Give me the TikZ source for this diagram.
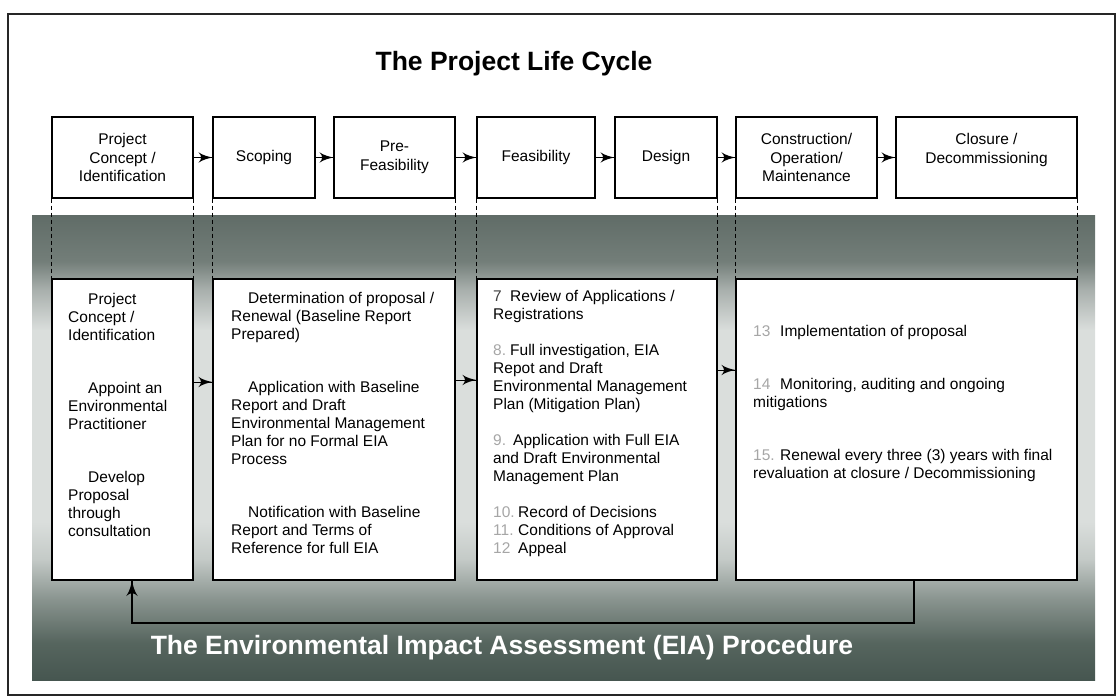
\documentclass[tikz,border=0pt]{standalone}
\usepackage{fontspec}
\setmainfont{Liberation Sans}
\usetikzlibrary{arrows}
\usetikzlibrary{decorations.markings}
\usetikzlibrary{positioning}

\definecolor{bandtop}{RGB}{96,108,103}
\definecolor{bandtopmid}{RGB}{115,126,121}
\definecolor{bandgrey}{RGB}{168,175,172}
\definecolor{bandlight}{RGB}{218,222,220}
\definecolor{bandpale}{RGB}{196,202,199}
\definecolor{bandmid}{RGB}{136,147,142}
\definecolor{banddeep}{RGB}{86,101,94}
\definecolor{bandbot}{RGB}{70,86,80}

\pgfdeclareverticalshading{eiaband}{100bp}{color(0bp)=(bandbot); color(25bp)=(bandbot);
  color(29bp)=(banddeep); color(33.6bp)=(bandmid); color(38bp)=(bandpale);
  color(42bp)=(bandlight); color(62.6bp)=(bandlight); color(67bp)=(bandgrey);
  color(70bp)=(bandtopmid); color(75bp)=(bandtop); color(100bp)=(bandtop)}

\tikzset{flow/.style = {decoration={markings,
                                    mark=at position 1 with {\arrow[scale=2.4]{latex'}}},
                        postaction={decorate}, line width=1pt}}
\tikzset{stage/.style = {draw, line width=1.2pt, fill=white, inner sep=0,
                         minimum height=81pt, minimum width=#1, align=center,
                         font=\fontsize{15.5}{18.5}\selectfont}}
\tikzset{phase/.style = {draw, line width=1.4pt, fill=white, inner sep=0,
                         minimum height=301pt, minimum width=#1}}
\tikzset{note/.style = {anchor=north west, inner sep=0, align=left,
                        font=\fontsize{15.5}{18}\selectfont}}
\tikzset{guide/.style = {dash pattern=on 4pt off 3pt, line width=1pt}}
\newcommand{\stepno}[3]{\makebox[#1][l]{\textcolor{#2}{#3}}}

\begin{document}
\begin{tikzpicture}[x=1pt, y=-1pt]
    \useasboundingbox (0, 0) rectangle (1117, 698);
    \draw [line width=1.8pt, black!85] (8, 14) rectangle (1115, 695);
    \shade [shading=eiaband] (32, 215) rectangle (1095, 680);

    \node (title) [font=\fontsize{26.5}{30}\selectfont\bfseries] at (514, 64) {The Project Life Cycle};

    % project life cycle
    \node (b1) [stage=141pt] at (122.5, 157.5) {Project\\Concept /\\Identification};
    \node (b2) [stage=102pt] at (264, 157.5) {Scoping};
    \node (b3) [stage=121pt] at (394.5, 157.5) {Pre-\\Feasibility};
    \node (b4) [stage=118pt] at (536, 157.5) {Feasibility};
    \node (b5) [stage=102pt] at (666, 157.5) {Design};
    \node (b6) [stage=141pt] at (806.5, 157.5) {Construction/\\Operation/\\Maintenance};
    \node (b7) [stage=181pt] at (986.5, 157.5) {Closure /\\Decommissioning\\\mbox{}};
    \foreach \a/\b in {b1/b2, b2/b3, b3/b4, b4/b5, b5/b6, b6/b7} {
      \draw [flow] (\a) -- (\b);
    }

    % EIA procedure
    \node (l1) [phase=141pt] at (122.5, 429.5) {};
    \node (l2) [phase=242pt] at (334, 429.5) {};
    \node (l3) [phase=240pt] at (597, 429.5) {};
    \node (l4) [phase=341pt] at (906.5, 429.5) {};
    \foreach \t/\s in {b1/west, b1/east, b2/west, b3/east, b4/west, b5/east, b6/west, b7/east} {
      \draw [guide] (\t.south \s) -- (\t.south \s |- l1.north);
    }

    \node (t1) [note] at (68, 292.7) {\hspace*{20pt}Project\\Concept /\\Identification\\[35pt]
      \hspace*{20pt}Appoint an\\Environmental\\Practitioner\\[35pt]
      \hspace*{20pt}Develop\\Proposal\\through\\consultation};
    \node (t2) [note] at (231, 291.7) {\hspace*{17pt}Determination of proposal /\\Renewal (Baseline Report\\Prepared)\\[35pt]
      \hspace*{17pt}Application with Baseline\\Report and Draft\\Environmental Management\\Plan for no Formal EIA\\Process\\[35pt]
      \hspace*{17pt}Notification with Baseline\\Report and Terms of\\Reference for full EIA};
    \node (t3) [note] at (493, 289.7) {\stepno{17pt}{black!75}{7}Review of Applications /\\Registrations\\[18pt]
      \stepno{17pt}{black!35}{8.}Full investigation, EIA\\Repot and Draft\\Environmental Management\\Plan (Mitigation Plan)\\[18pt]
      \stepno{20pt}{black!35}{9.}Application with Full EIA\\and Draft Environmental\\Management Plan\\[18pt]
      \stepno{25pt}{black!35}{10.}Record of Decisions\\
      \stepno{25pt}{black!35}{11.}Conditions of Approval\\
      \stepno{25pt}{black!35}{12}Appeal};
    \node (t4) [note] at (753, 324.7) {\stepno{27pt}{black!35}{13}Implementation of proposal\\[35pt]
      \stepno{27pt}{black!35}{14}Monitoring, auditing and ongoing\\mitigations\\[35pt]
      \stepno{27pt}{black!35}{15.}Renewal every three (3) years with final\\revaluation at closure / Decommissioning};

    \coordinate (ya) at (0, 382);
    \coordinate (yb) at (0, 380);
    \coordinate (yc) at (0, 370);
    \draw [flow] (l1.east |- ya) -- (l2.west |- ya);
    \draw [flow] (l2.east |- yb) -- (l3.west |- yb);
    \draw [flow] (l3.east |- yc) -- (l4.west |- yc);

    \coordinate (fbr) at (914, 623);
    \coordinate (fbl) at (132, 623);
    \draw [flow, line width=1.2pt] (l4.south -| fbr) -- (fbr) -- (fbl) -- (fbl |- l1.south);

    \node (eia) [font=\fontsize{26.5}{30}\selectfont\bfseries, text=white] at (502, 648)
      {The Environmental Impact Assessment (EIA) Procedure};
\end{tikzpicture}
\end{document}
